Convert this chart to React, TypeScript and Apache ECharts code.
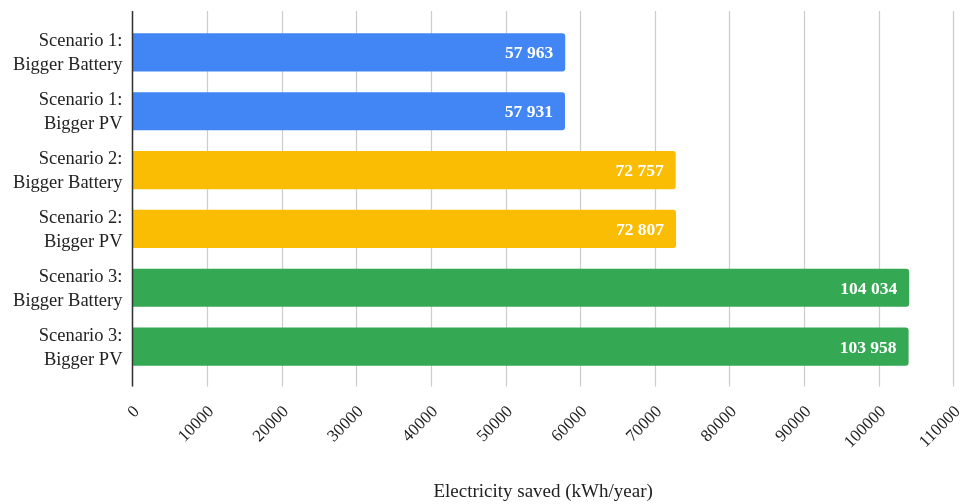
import React, { useEffect, useRef } from "react";
import * as echarts from "echarts";

const categories = [
  "Scenario 1:\nBigger Battery",
  "Scenario 1:\nBigger PV",
  "Scenario 2:\nBigger Battery",
  "Scenario 2:\nBigger PV",
  "Scenario 3:\nBigger Battery",
  "Scenario 3:\nBigger PV",
];
const values = [57963, 57931, 72757, 72807, 104034, 103958];
const barColors = ["#4285F4", "#4285F4", "#FBBC04", "#FBBC04", "#34A853", "#34A853"];
const axisMin = 0;
const axisMax = 110000;
const axisStep = 10000;
const axisTitle = "Electricity saved (kWh/year)";

const FONT = "'Liberation Serif', 'DejaVu Serif', serif";

function fmt(v: number): string {
  return String(v).replace(/\B(?=(\d{3})+(?!\d))/g, " ");
}

export default function App() {
  const ref = useRef<HTMLDivElement>(null);
  useEffect(() => {
    if (!ref.current) return;
    const chart = echarts.init(ref.current, null, { renderer: "svg" });
    const gridTop = 23;
    const gridHeight = 353;
    const axisY = gridTop + gridHeight;
    chart.setOption({
      animation: false,
      textStyle: { fontFamily: FONT },
      grid: {
        left: 132.5,
        width: 821.2,
        top: gridTop,
        height: gridHeight,
        containLabel: false,
        outerBoundsMode: "none",
      },
      xAxis: [
        {
          type: "value",
          min: axisMin,
          max: axisMax,
          interval: axisStep,
          position: "bottom",
          axisLine: { show: false },
          axisTick: { show: true, length: 10.5, lineStyle: { color: "#cccccc", width: 1.2 } },
          splitLine: { show: true, lineStyle: { color: "#cccccc", width: 1.2 } },
          axisLabel: {
            rotate: 45,
            margin: 36,
            padding: [0, -5, 0, 0],
            fontSize: 17,
            color: "#222222",
            fontFamily: FONT,
            formatter: (v: number) => String(v),
          },
          name: axisTitle,
          nameLocation: "middle",
          nameGap: 105,
          nameTextStyle: { fontSize: 19, color: "#222222", fontFamily: FONT },
        },
        {
          type: "value",
          min: axisMin,
          max: axisMax,
          interval: axisStep,
          position: "top",
          axisLine: { show: false },
          axisTick: { show: true, length: 12, lineStyle: { color: "#cccccc", width: 1.2 } },
          splitLine: { show: false },
          axisLabel: { show: false },
        },
      ],
      yAxis: {
        type: "category",
        data: categories,
        inverse: true,
        axisLine: { show: false },
        axisTick: { show: false },
        axisLabel: {
          margin: 10,
          fontSize: 18.5,
          lineHeight: 24,
          color: "#222222",
          fontFamily: FONT,
          align: "right",
        },
      },
      series: [
        {
          type: "bar",
          xAxisIndex: 0,
          data: values.map((v, i) => ({ value: v, itemStyle: { color: barColors[i] } })),
          barCategoryGap: "35%",
          itemStyle: { borderRadius: [0, 3, 3, 0] },
          label: {
            show: true,
            position: "insideRight",
            distance: 12,
            color: "#ffffff",
            fontWeight: "bold",
            fontSize: 17.5,
            fontFamily: FONT,
            formatter: (p: any) => fmt(p.value),
          },
        },
      ],
    });
    const x0 = chart.convertToPixel({ xAxisIndex: 0 }, 0) as number;
    chart.setOption({
      graphic: [
        {
          type: "line",
          z: 100,
          shape: { x1: x0, y1: gridTop - 12, x2: x0, y2: axisY + 10.5 },
          style: { stroke: "#333333", lineWidth: 1.5 },
        },
      ],
    });
    return () => chart.dispose();
  }, []);
  return (
    <div
      ref={ref}
      style={{ position: "fixed", left: 0, top: 0, width: 963, height: 504 }}
    />
  );
}
